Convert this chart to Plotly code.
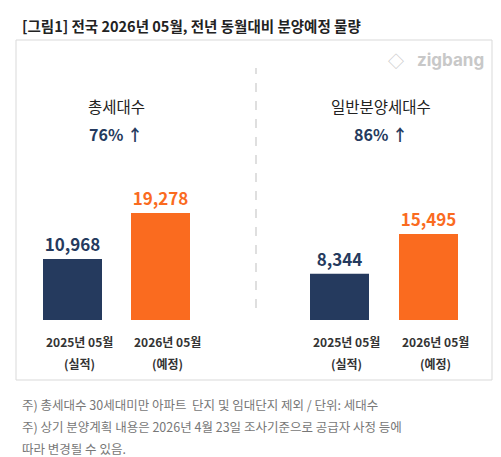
import plotly.graph_objects as go

# data
labels_top = ["2025년 05월", "2026년 05월", "2025년 05월", "2026년 05월"]
labels_sub = ["(실적)", "(예정)", "(실적)", "(예정)"]
values = [10968, 19278, 8344, 15495]
group_titles = ["총세대수", "일반분양세대수"]
group_change = ["76% ↑", "86% ↑"]

navy = "#253a5e"
orange = "#fa6b1f"
colors = [navy, orange, navy, orange]
xpos = [64.5, 152.5, 331.5, 420.5]

W, H = 501, 457
base_px = 312
per_px = 19278 / 107
yr = [-(H - base_px) * per_px, base_px * per_px]

fig = go.Figure()
fig.add_bar(x=xpos, y=values, width=59, marker_color=colors, marker_line_width=0,
            text=[f"<b>{v:,}</b>" for v in values], textposition="outside",
            textfont=dict(size=17, color=colors, family="Noto Sans CJK KR"),
            cliponaxis=False, hoverinfo="skip")

def py(p):
    return 1 - p / H

def px_(p):
    return p / W

ann = []
ann.append(dict(x=px_(12), y=py(18), text="<b>[그림1] 전국 2026년 05월, 전년 동월대비 분양예정 물량</b>",
                xanchor="left", font=dict(size=14.5, color="#222")))
ann.append(dict(x=px_(478), y=py(52), text="<b>zigbang</b>", xanchor="right",
                font=dict(size=17, color="#c8c8c8", family="Inter")))
ann.append(dict(x=px_(398), y=py(52), text="◇", xanchor="right",
                font=dict(size=16, color="#c8c8c8")))
for i, gx in enumerate([108, 373]):
    ann.append(dict(x=px_(gx), y=py(98), text=group_titles[i],
                    font=dict(size=15.5, color="#222")))
    ann.append(dict(x=px_(gx), y=py(126), text=f"<b>{group_change[i]}</b>",
                    font=dict(size=16, color=navy)))
for i, x in enumerate(xpos):
    ann.append(dict(x=px_(x + 7), y=py(333), text=f"<b>{labels_top[i]}</b>",
                    font=dict(size=12, color="#333")))
    ann.append(dict(x=px_(x + 7), y=py(355), text=f"<b>{labels_sub[i]}</b>",
                    font=dict(size=12, color="#333")))
notes = ["주) 총세대수 30세대미만 아파트  단지 및 임대단지 제외 / 단위: 세대수",
         "주) 상기 분양계획 내용은 2026년 4월 23일 조사기준으로 공급자 사정 등에",
         "따라 변경될 수 있음."]
for i, t in enumerate(notes):
    ann.append(dict(x=px_(12), y=py(396 + 22 * i), text=t, xanchor="left",
                    font=dict(size=12.5, color="#777")))
for a in ann:
    a.update(xref="paper", yref="paper", showarrow=False, yanchor="middle")
    a.setdefault("xanchor", "center")

fig.update_layout(
    width=W, height=H, margin=dict(l=0, r=0, t=0, b=0),
    plot_bgcolor="white", paper_bgcolor="white", showlegend=False,
    font=dict(family="Noto Sans CJK KR"),
    xaxis=dict(range=[0, W], visible=False, fixedrange=True),
    yaxis=dict(range=yr, visible=False, fixedrange=True),
    annotations=ann,
    shapes=[
        dict(type="rect", xref="paper", yref="paper", x0=px_(8), x1=px_(484), y0=py(372), y1=py(32),
             line=dict(color="#d9d9d9", width=1)),
        dict(type="line", xref="paper", yref="paper", x0=px_(248), x1=px_(248), y0=py(300), y1=py(60),
             line=dict(color="#bfbfbf", width=1, dash="dash")),
    ],
)
fig.write_html("out.html")
